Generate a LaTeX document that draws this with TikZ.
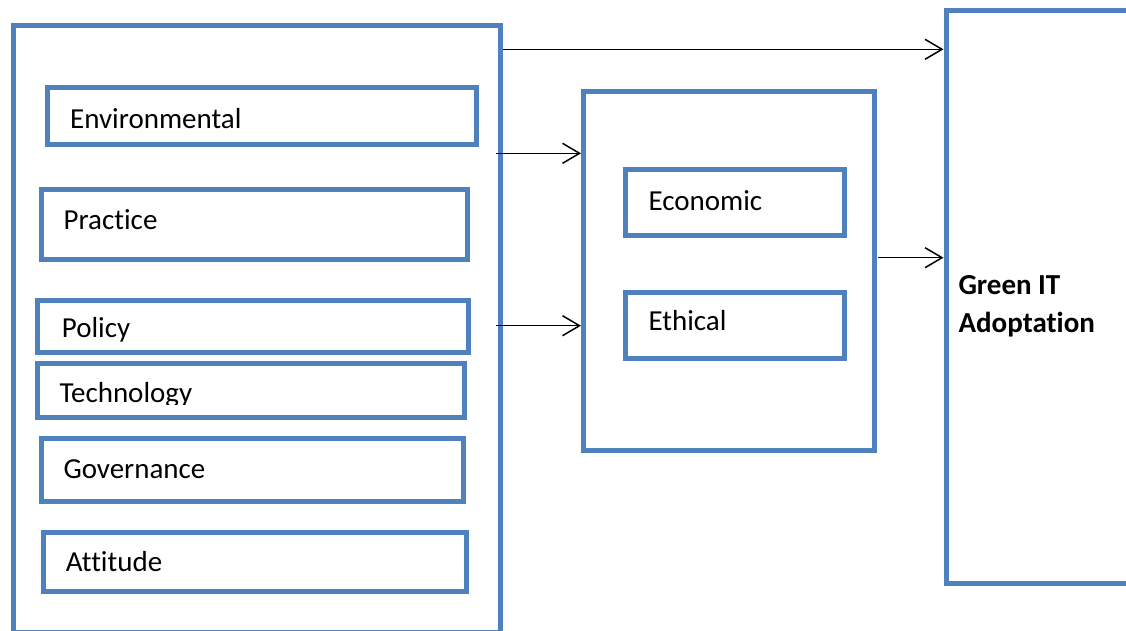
\documentclass[tikz,border=0pt]{standalone}
\usepackage{fontspec}
\setmainfont{Carlito}[Ligatures={NoCommon}]
\usetikzlibrary{arrows.meta,fit}
\definecolor{frameblue}{HTML}{4F81BD}
\tikzset{
  box/.style={draw=frameblue, line width=5pt, inner sep=0pt, rectangle},
  lbl/.style={anchor=base west, inner sep=0pt, font=\fontsize{29}{35}\selectfont},
  head/.style={anchor=base west, inner sep=0pt, font=\fontsize{29}{35}\selectfont\bfseries},
  arr/.style={draw=black, line width=1.5pt, -{Straight Barb[length=17pt,width=20pt,line width=1.5pt]}}
}
\begin{document}
\begin{tikzpicture}[x=1pt,y=-1pt]
\useasboundingbox (0,0) rectangle (1126,630);
\clip (0,0) rectangle (1126,630);

% left group of factors
\node[box, fit={(13.3,25) (500,632.5)}] (outer) {};
\node[box, fit={(47,87.5) (476,144)}] (env) {};
\node[box, fit={(41,189) (467.5,259)}] (prac) {};
\node[box, fit={(37.5,300) (468,352.5)}] (pol) {};
\node[box, fit={(37,363.5) (464,417)}] (tech) {};
\node[box, fit={(41,438) (463.5,501.5)}] (gov) {};
\node[box, fit={(43.5,532) (466.5,591.5)}] (att) {};

\node[lbl] (envt) at (70,128.3) {Environmental};
\node[lbl] (pract) at (63.5,229.3) {Practice};
\node[lbl] (polt) at (61.7,337.3) {Policy};
\begin{scope}
  \clip (40,366) rectangle (461,404);
  \node[lbl] (techt) at (59.3,402.7) {Technology};
\end{scope}
\node[lbl] (govt) at (63.3,478.3) {Governance};
\node[lbl] (attt) at (65.7,571.7) {Attitude};

% middle group
\node[box, fit={(583.5,91.5) (874,450.5)}] (mid) {};
\node[box, fit={(625,169.5) (844,235)}] (eco) {};
\node[box, fit={(625,292) (844,358.5)}] (eth) {};
\node[lbl] (ecot) at (648.3,210) {Economic};
\node[lbl] (etht) at (648.3,330.7) {Ethical};

% outcome
\node[box, fit={(946,10) (1150,583.5)}] (green) {};
\node[head] (greent) at (958.3,294.3) {Green IT};
\node[head] (adopt) at (958.3,332.7) {Adoptation};

% connectors
\coordinate (s1) at (503.3,49.3);
\coordinate (s2) at (496,153.3);
\coordinate (s3) at (496,325.7);
\coordinate (s4) at (878.3,257.7);
\draw[arr] (s1) -- (green.west |- s1);
\draw[arr] (s2) -- (mid.west |- s2);
\draw[arr] (s3) -- (mid.west |- s3);
\draw[arr] (s4) -- (green.west |- s4);
\end{tikzpicture}
\end{document}
